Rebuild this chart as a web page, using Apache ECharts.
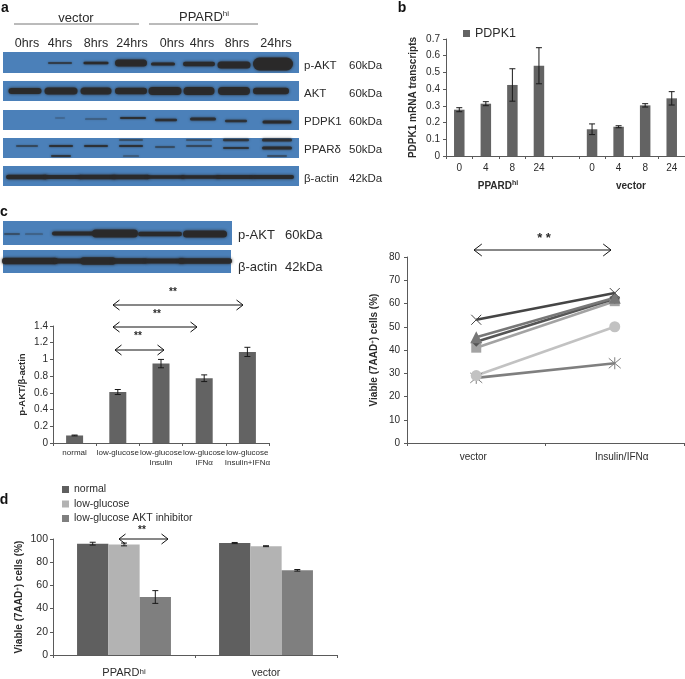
<!DOCTYPE html>
<html><head><meta charset="utf-8">
<style>html,body{margin:0;padding:0;background:#fff}#c{width:685px;height:679px}</style>
<script src="https://cdn.jsdelivr.net/npm/echarts@6/dist/echarts.min.js"></script>
</head><body><div id="c"></div>
<script>
// ---- data ----
const bCategories = ['0','4','8','24','','0','4','8','24'];
const bValues = [0.277,0.313,0.425,0.54,null,0.16,0.175,0.303,0.345];
const bErrors = [0.012,0.012,0.097,0.108,null,0.032,0.006,0.01,0.04];
const cCategories = ['normal','low-glucose','low-glucose\nInsulin','low-glucose\nIFNα','low-glucose\nInsulin+IFNα'];
const cValues = [0.09,0.61,0.95,0.775,1.09];
const cErrors = [0.005,0.03,0.05,0.04,0.055];
const lineCategories = ['vector','Insulin/IFNα'];
const lineX = [53,64.5];
const lineTriangle = [45.5,62.5];
const lineDiamond = [43.5,62];
const lineSquare = [41,61];
const lineCircle = [29,50];
const lineStar = [28,34.3];
const dCategories = ['PPARD','vector'];
const dNormal = [96,96.5];
const dLow = [95.3,93.8];
const dInhibitor = [50,73];
const dNormalErr = [1.2,0.5];
const dLowErr = [1.2,0.4];
const dInhibitorErr = [5.5,0.7];
const hours = ['0hrs','4hrs','8hrs','24hrs','0hrs','4hrs','8hrs','24hrs'];
const blotLabels = ['p-AKT','AKT','PDPK1','PPARδ','β-actin'];
const blotWeights = ['60kDa','60kDa','60kDa','50kDa','42kDa'];

// ---- styles / layout ----
const FONT = '"Liberation Sans", Arial, sans-serif';
const TXT = '#2b2b2b', AX = '#5a5a5a';
const BLOT = '#4b80b9', BAND = '#2a2929';
const g = [];
function text(x,y,t,size,opt){
  g.push({type:'text',x,y,silent:true,z:20,style:Object.assign({text:t,fontFamily:FONT,fontSize:size,fill:TXT,align:'center',verticalAlign:'middle'},opt||{})});
}
function rect(x,y,w,h){g.push({type:'rect',silent:true,z:5,shape:{x,y,width:w,height:h},style:{fill:BLOT}});}
function band(cx,cy,w,h,o){
  g.push({type:'rect',silent:true,z:6,shape:{x:cx-w/2,y:cy-h/2,width:w,height:h,r:h/2},
    style:{fill:BAND,opacity:o==null?0.95:o,shadowBlur:Math.min(3,h/2+1),shadowColor:BAND}});
}
function arrow(x1,x2,y,hw,color){
  const c=color||'#111';
  g.push({type:'line',silent:true,z:20,shape:{x1,y1:y,x2,y2:y},style:{stroke:c,lineWidth:1}});
  g.push({type:'polyline',silent:true,z:20,shape:{points:[[x1+hw*1.3,y-hw],[x1,y],[x1+hw*1.3,y+hw]]},style:{stroke:c,fill:'none',lineWidth:1}});
  g.push({type:'polyline',silent:true,z:20,shape:{points:[[x2-hw*1.3,y-hw],[x2,y],[x2-hw*1.3,y+hw]]},style:{stroke:c,fill:'none',lineWidth:1}});
}
const sup = {a:{fontFamily:FONT,fontSize:13,fill:TXT,color:TXT},s:{fontFamily:FONT,fontSize:8,fill:TXT,color:TXT,verticalAlign:'top',padding:[0,0,6,0]}};
const supB = {a:{fontFamily:FONT,fontSize:10,fontWeight:'bold',fill:TXT,color:TXT},s:{fontFamily:FONT,fontSize:7,fontWeight:'bold',fill:TXT,color:TXT,verticalAlign:'top',padding:[0,0,5,0]}};

// panel letters
[['a',5,8],['b',402,8],['c',4,212],['d',4,500]].forEach(l=>text(l[1],l[2],l[0],14,{fontWeight:'bold',fill:'#111'}));

// panel a header
text(76,18,'vector',13);
text(204,17,'{a|PPARD}{s|hi}',13,{rich:sup});
g.push({type:'line',silent:true,shape:{x1:14,y1:24,x2:139,y2:24},style:{stroke:'#777',lineWidth:1}});
g.push({type:'line',silent:true,shape:{x1:149,y1:24,x2:258,y2:24},style:{stroke:'#777',lineWidth:1}});
const hourX=[27,60,96,132,172,202,237,276];
hours.forEach((h,i)=>text(hourX[i],44,h,12.5));

// panel b group labels
text(498,186,'{a|PPARD}{s|hi}',10,{rich:supB});
text(631,186,'vector',10,{fontWeight:'bold'});

// panel a blots
const blotTop=[52,81,110,138,166], blotH=[21,20,20,20,20], labelY=[66,94,122,150,179];
blotLabels.forEach((l,i)=>{
  rect(3,blotTop[i],296,blotH[i]);
  text(304,labelY[i],l,11.5,{align:'left'});
  text(349,labelY[i],blotWeights[i],11.5,{align:'left'});
});
// [x, width, height, y, opacity]
[[60,24,1.6,63,.8],[96,25,2.6,63],[131,32,7,63],[163,24,3.2,64],[199,32,4.4,64],[234,33,7,65],[273,40,13,64]].forEach(b=>band(b[0],b[3],b[1],b[2],b[4]));
[[25,33,6],[61,33,7],[96,31,7],[131,32,6.5],[165,33,8],[199,31,8],[234,32,8],[271,36,6.5]].forEach(b=>band(b[0],91,b[1],b[2]));
[[60,10,.8,118,.3],[96,22,1.2,119,.45],[133,26,2.2,118,.85],[166,22,2.6,120,.85],[203,26,3,119,.85],[236,22,2.6,121,.8],[277,29,3,122,.95]].forEach(b=>band(b[0],b[3],b[1],b[2],b[4]));
[[27,22,1.4,146,.6],[61,24,2,146,.8],[61,20,2,156,.7],[96,24,2.2,146,.8],[131,24,2,146,.8],[131,16,1.2,156,.5],[131,24,1.6,140,.5],
 [165,20,1.4,147,.55],[199,26,1.6,146,.6],[199,26,1.4,140,.45],[236,26,2.2,148,.75],[236,26,2.6,140,.7],[277,30,3,148,.9],[277,30,3,140,.8],[277,20,1.5,156,.5]].forEach(b=>band(b[0],b[3],b[1],b[2],b[4]));
[[27,42,4.4],[62,38,4],[97,38,4.4],[131,38,4.4],[166,38,3.4],[200,38,3.6],[235,38,4],[273,42,4]].forEach(b=>band(b[0],177,b[1],b[2]));

// panel c blots
rect(3,221,229,24); rect(3,250,228,23);
[[12,16,1.5,234,.5],[34,18,1.2,234,.4],[74,44,4,233.5],[115,46,8,233.5],[160,44,4.5,234],[205,44,7,234]].forEach(b=>band(b[0],b[3],b[1],b[2],b[4]));
[[30,56,6.5],[68,30,5],[98,36,7.5],[130,36,5.5],[165,40,5],[205,54,5.5]].forEach(b=>band(b[0],261,b[1],b[2]));
text(238,235,'p-AKT',13,{align:'left'}); text(285,235,'60kDa',13,{align:'left'});
text(238,267,'β-actin',13,{align:'left'}); text(285,267,'42kDa',13,{align:'left'});

// annotations
arrow(113,243,305,5); arrow(113,197,327,5); arrow(115,164,350,5);
text(173,292,'**',10,{fontWeight:'bold'}); text(157,314,'**',10,{fontWeight:'bold'}); text(138,336,'**',10,{fontWeight:'bold'});
arrow(474,611,250,6); text(544,238,'* *',13,{fontWeight:'bold'});
arrow(119,168,539,5); text(142,530,'**',10,{fontWeight:'bold'});

// error bars drawn through the axes
function errSeries(name,x,y,vals,errs,offset,cap){
  return {type:'custom',name,xAxisIndex:x,yAxisIndex:y,z:5,silent:true,
    data:vals.map((v,i)=>[i,v,errs[i]]).filter(d=>d[1]!=null),
    encode:{x:0,y:1},
    renderItem(p,api){
      const i=api.value(0),v=api.value(1),e=api.value(2);
      const lo=api.coord([i,v-e]),hi=api.coord([i,v+e]);
      const X=lo[0]+(offset||0);
      const st={stroke:'#1a1a1a',lineWidth:1};
      return {type:'group',children:[
        {type:'line',shape:{x1:X,y1:lo[1],x2:X,y2:hi[1]},style:st},
        {type:'line',shape:{x1:X-cap,y1:lo[1],x2:X+cap,y2:lo[1]},style:st},
        {type:'line',shape:{x1:X-cap,y1:hi[1],x2:X+cap,y2:hi[1]},style:st}
      ]};
    }};
}
const axisBase={axisLine:{show:true,lineStyle:{color:AX,width:1}},axisTick:{show:true,length:3,lineStyle:{color:AX}},splitLine:{show:false}};
function yAx(idx,min,max,interval,name,gap,size,margin,fmt,nameSize){
  return Object.assign({},axisBase,{type:'value',gridIndex:idx,min,max,interval,name,nameLocation:'middle',nameRotate:90,nameGap:gap,
    nameTextStyle:{fontFamily:FONT,fontSize:nameSize||10,fontWeight:'bold',color:TXT,
      rich:{n:{fontFamily:FONT,fontSize:nameSize||10,fontWeight:'bold',color:TXT},s:{fontFamily:FONT,fontSize:6,fontWeight:'bold',color:TXT,verticalAlign:'top'}}},
    axisLabel:{fontFamily:FONT,fontSize:size,color:TXT,margin,formatter:fmt}});
}
function xAx(idx,data,size,margin,extra){
  return Object.assign({},axisBase,{type:'category',gridIndex:idx,data,axisTick:{show:true,length:3,lineStyle:{color:AX},alignWithLabel:false},
    axisLabel:Object.assign({fontFamily:FONT,fontSize:size,color:TXT,margin,interval:0},extra||{})});
}
const XPATH='path://M0 0L10 10M10 0L0 10';
const STARPATH='path://M0 0L10 10M10 0L0 10M5 -1L5 11';
function lineSeries(name,data,color,symbol,size,stroke){
  return {type:'line',name,xAxisIndex:2,yAxisIndex:2,data,symbol,symbolSize:size,lineStyle:{color,width:2.6},
    itemStyle:stroke?{color:'rgba(0,0,0,0)',borderColor:color,borderWidth:1}:{color},silent:true,animation:false};
}
const viable='Viable (7AAD{s|+}) cells (%)';
const option={
  animation:false,
  textStyle:{fontFamily:FONT},
  graphic:{elements:g},
  legend:[
    {data:['PDPK1'],left:458,top:22,itemWidth:7,itemHeight:7,itemGap:4,icon:'rect',textStyle:{fontFamily:FONT,fontSize:12.5,color:TXT}},
    {data:['normal','low-glucose','low-glucose AKT inhibitor'],orient:'vertical',left:57,top:479,itemWidth:7,itemHeight:7,itemGap:3.5,icon:'rect',
      textStyle:{fontFamily:FONT,fontSize:10.5,color:TXT}}
  ],
  grid:[
    {left:446,top:39,width:239,height:117},
    {left:53,top:326,width:216,height:117},
    {left:407,top:257,width:277,height:186},
    {left:53,top:539,width:284,height:116}
  ],
  xAxis:[
    xAx(0,bCategories,10,7.5),
    xAx(1,cCategories,8,5,{lineHeight:10}),
    xAx(2,[{value:lineCategories[0],textStyle:{padding:[0,6,0,0]}},{value:lineCategories[1],textStyle:{padding:[0,0,0,14]}}],10,9),
    xAx(3,dCategories,10.5,12.5,{formatter:v=>v==='PPARD'?'{a|PPARD}{s|hi}':v,
      rich:{a:{fontFamily:FONT,fontSize:11,color:TXT},s:{fontFamily:FONT,fontSize:8,color:TXT,verticalAlign:'top'}}})
  ],
  yAxis:[
    yAx(0,0,0.7,0.1,'PDPK1 mRNA transcripts',28,10,6,v=>v===0?'0':v.toFixed(1)),
    yAx(1,0,1.4,0.2,'p-AKT/β-actin',26,10,5,v=>(+v.toFixed(1)).toString(),9.5),
    yAx(2,0,80,10,viable,28,10,7),
    yAx(3,0,100,20,viable,29,10.5,5)
  ],
  series:[
    {type:'bar',name:'PDPK1',xAxisIndex:0,yAxisIndex:0,data:bValues,barWidth:10.5,itemStyle:{color:'#636363'},silent:true},
    errSeries('bErr',0,0,bValues,bErrors,0,3),
    {type:'bar',name:'p-AKT/β-actin',xAxisIndex:1,yAxisIndex:1,data:cValues,barWidth:17,itemStyle:{color:'#636363'},silent:true},
    errSeries('cErr',1,1,cValues,cErrors,0,3),
    lineSeries('line star',lineStar,'#7f7f7f',STARPATH,12,true),
    lineSeries('line circle',lineCircle,'#c2c2c2','circle',11),
    lineSeries('line square',lineSquare,'#a3a3a3','rect',10),
    lineSeries('line diamond',lineDiamond,'#555555','diamond',10),
    lineSeries('line triangle',lineTriangle,'#777777','triangle',12),
    lineSeries('line x',lineX,'#454545',XPATH,10,true),
    {type:'bar',name:'normal',xAxisIndex:3,yAxisIndex:3,data:dNormal,barWidth:31.3,barGap:'0%',itemStyle:{color:'#5f5f5f'},silent:true},
    {type:'bar',name:'low-glucose',xAxisIndex:3,yAxisIndex:3,data:dLow,barWidth:31.3,barGap:'0%',itemStyle:{color:'#b3b3b3'},silent:true},
    {type:'bar',name:'low-glucose AKT inhibitor',xAxisIndex:3,yAxisIndex:3,data:dInhibitor,barWidth:31.3,barGap:'0%',itemStyle:{color:'#7f7f7f'},silent:true},
    errSeries('dErr1',3,3,dNormal,dNormalErr,-31.3,3),
    errSeries('dErr2',3,3,dLow,dLowErr,0,3),
    errSeries('dErr3',3,3,dInhibitor,dInhibitorErr,31.3,3)
  ]
};
const chart=echarts.init(document.getElementById('c'),null,{renderer:'canvas'});
chart.setOption(option);
</script></body></html>
